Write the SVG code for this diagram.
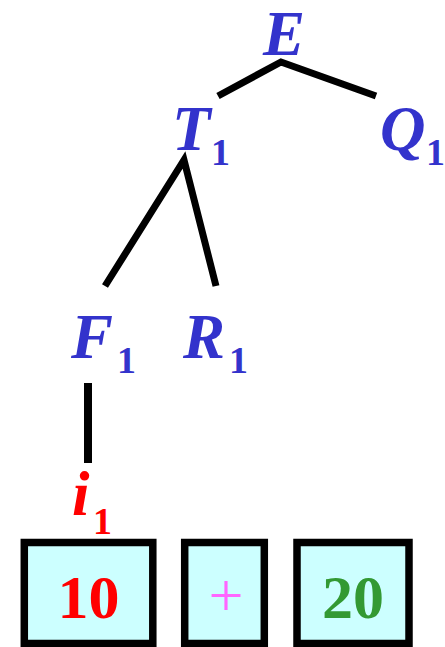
<svg xmlns="http://www.w3.org/2000/svg" width="445" height="647" viewBox="0 0 445 647">
<style>
.n{font-family:"Liberation Serif","Times New Roman",serif;font-style:italic;font-weight:bold;font-size:63px;fill:#3333cc}
.s{font-family:"Liberation Serif","Times New Roman",serif;font-weight:bold;font-size:38px;fill:#3333cc}
.red{fill:#ff0000}
.e{stroke:#000;stroke-width:7;fill:none}
.box{fill:#ccffff;stroke:#000;stroke-width:7.5}
.t{font-family:"Liberation Serif","Times New Roman",serif;font-size:62px;text-anchor:middle}
</style>
<rect width="445" height="647" fill="#fff"/>
<g id="connectors">
<polyline class="e" points="218,96 281,62 376,96"/>
<polyline class="e" points="105,286 184,160 216,286"/>
<line class="e" x1="88" y1="383" x2="88" y2="463" style="stroke-width:8"/>
</g>
<g id="E"><text class="n" x="263" y="55">E</text></g>
<g id="T1"><text class="n" x="172" y="150">T</text><text class="s" x="211" y="165">1</text></g>
<g id="Q1"><text class="n" x="380" y="150">Q</text><text class="s" x="426" y="165">1</text></g>
<g id="F1"><text class="n" x="71" y="358">F</text><text class="s" x="117" y="373">1</text></g>
<g id="R1"><text class="n" x="183" y="358">R</text><text class="s" x="229" y="373">1</text></g>
<g id="i1"><text class="n red" x="72" y="515">i</text><text class="s red" x="93" y="534">1</text></g>
<g id="box10"><rect class="box" x="24.3" y="542.5" width="128.5" height="101"/><text class="t" x="88.6" y="618" font-weight="bold" fill="#ff0000">10</text></g>
<g id="boxPlus"><rect class="box" x="184.7" y="542.5" width="79.6" height="101"/><text class="t" x="226" y="616" fill="#ff66ff">+</text></g>
<g id="box20"><rect class="box" x="297" y="542.5" width="112" height="101"/><text class="t" x="353" y="618" font-weight="bold" fill="#339933">20</text></g>
</svg>
